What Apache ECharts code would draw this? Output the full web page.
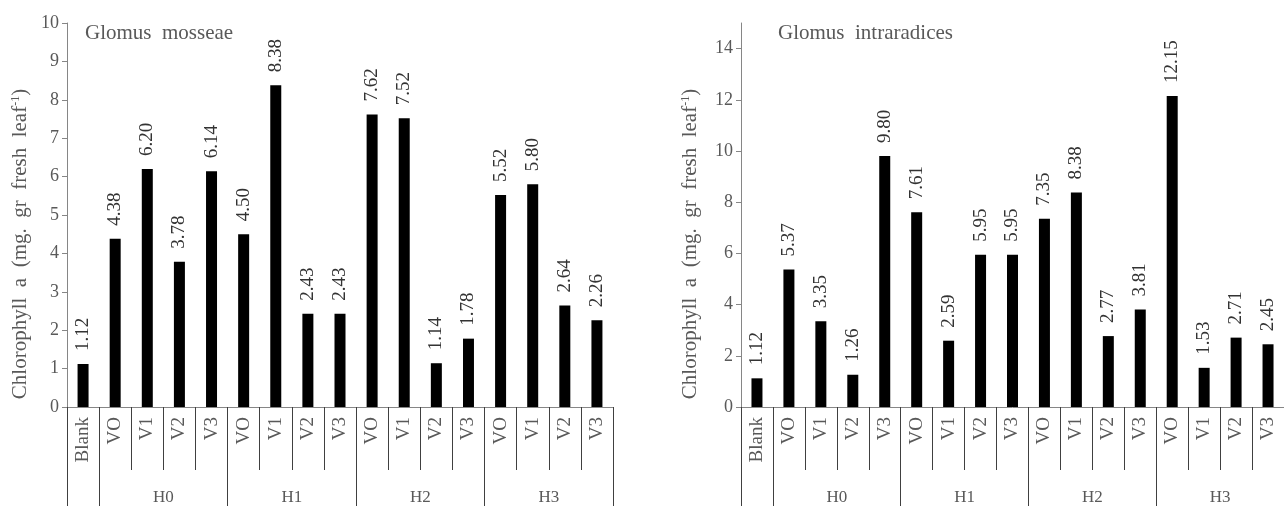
<!DOCTYPE html>
<html>
<head>
<meta charset="utf-8">
<script src="https://cdn.jsdelivr.net/npm/echarts@6/dist/echarts.min.js"></script>
<style>html,body{margin:0;padding:0;background:#fff;}#c{width:1284px;height:506px;}</style>
</head>
<body>
<div id="c"></div>
<script>
const categories = ['Blank','VO','V1','V2','V3','VO','V1','V2','V3','VO','V1','V2','V3','VO','V1','V2','V3'];
const groups = ['H0','H1','H2','H3'];
const groupBounds = [0,1,5,9,13,17];
const groupCenters = [3,7,11,15];
const mosseae = [1.12, 4.38,6.20,3.78,6.14, 4.50,8.38,2.43,2.43, 7.62,7.52,1.14,1.78, 5.52,5.80,2.64,2.26];
const intraradices = [1.12, 5.37,3.35,1.26,9.80, 7.61,2.59,5.95,5.95, 7.35,8.38,2.77,3.81, 12.15,1.53,2.71,2.45];
const yTicksLeft = [0,1,2,3,4,5,6,7,8,9,10];
const yTicksRight = [0,2,4,6,8,10,12,14];
const titles = ['Glomus  mosseae','Glomus  intraradices'];
const yName = 'Chlorophyll  a  (mg.  gr  fresh  leaf{sup|-1})';

const FONT = "'Liberation Serif','Times New Roman',serif";
const GREY = '#595959';
const LINE = '#868686';

function xAxes(gi){
  return [{
    type:'category', gridIndex:gi, data:categories, boundaryGap:true,
    axisLine:{show:true,lineStyle:{color:LINE,width:1}},
    axisTick:{show:true,interval:0,length:63,lineStyle:{color:'#404040'}},
    axisLabel:{interval:0,rotate:90,margin:10,color:GREY,fontFamily:FONT,fontSize:19}
  },{
    type:'value', gridIndex:gi, min:0, max:17, position:'bottom',
    axisLine:{show:false}, splitLine:{show:false},
    axisTick:{show:true,length:100,customValues:groupBounds,lineStyle:{color:'#404040'}},
    axisLabel:{customValues:groupCenters,margin:82,color:GREY,fontFamily:FONT,fontSize:17,
      formatter:v=>groups[groupCenters.indexOf(v)]}
  }];
}
function yAxis(gi,max,ticks,gap,pad){
  return {
    type:'value', gridIndex:gi, min:0, max:max,
    axisLine:{show:true,lineStyle:{color:LINE}},
    axisTick:{show:true,length:5,customValues:ticks,lineStyle:{color:LINE}},
    axisLabel:{customValues:ticks,margin:8,color:GREY,fontFamily:FONT,fontSize:18},
    splitLine:{show:false},
    name:yName, nameLocation:'middle', nameGap:gap, nameRotate:90,
    nameTextStyle:{color:GREY,fontFamily:FONT,fontSize:21,padding:pad,
      rich:{sup:{fontSize:12,fontFamily:FONT,color:GREY,verticalAlign:'top',padding:[0,0,9,0]}}}
  };
}
function series(gi,data){
  return {
    type:'bar', xAxisIndex:gi*2, yAxisIndex:gi, data:data, barWidth:11,
    itemStyle:{color:'#000'},
    label:{show:true,position:'top',distance:13,rotate:90,align:'left',verticalAlign:'middle',
      color:'#333333',fontFamily:FONT,fontSize:19,formatter:p=>p.value.toFixed(2)}
  };
}
const chart = echarts.init(document.getElementById('c'),null,{renderer:'canvas'});
chart.setOption({
  animation:false,
  title:[
    {text:titles[0],left:80,top:18,textStyle:{color:GREY,fontFamily:FONT,fontSize:21,fontWeight:'normal'}},
    {text:titles[1],left:773,top:18,textStyle:{color:GREY,fontFamily:FONT,fontSize:21,fontWeight:'normal'}}
  ],
  grid:[
    {left:67,width:546,top:23,bottom:99,containLabel:false},
    {left:741,width:545,top:23,bottom:99,containLabel:false}
  ],
  xAxis:[...xAxes(0),...xAxes(1)],
  yAxis:[yAxis(0,10,yTicksLeft,36,[0,58,0,0]), yAxis(1,15,yTicksRight,40,[0,58,0,0])],
  series:[series(0,mosseae),series(1,intraradices)]
});
</script>
</body>
</html>
